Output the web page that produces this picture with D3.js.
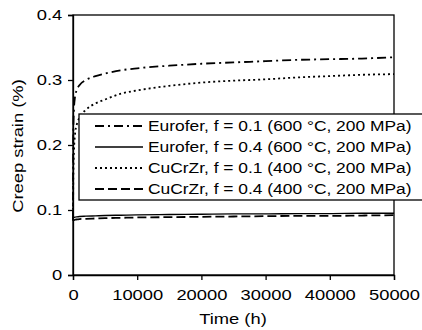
<!DOCTYPE html>
<html>
<head>
<meta charset="utf-8">
<script src="https://cdn.jsdelivr.net/npm/d3@7"></script>
<style>
  body { margin: 0; background: #fff; }
  text { font-family: "Liberation Sans", Arial, sans-serif; fill: #000; }
</style>
</head>
<body>
<script>
// time points (h)
const time = [0, 50, 150, 300, 600, 1000, 2000, 3500, 5000, 7500, 10000, 15000, 20000, 25000, 30000, 35000, 40000, 45000, 50000];

// creep strain (%) for each case
const eurofer01 = [0.085, 0.22, 0.255, 0.273, 0.285, 0.292, 0.3, 0.306, 0.31, 0.315, 0.318, 0.322, 0.325, 0.327, 0.329, 0.331, 0.332, 0.333, 0.335];
const eurofer04 = [0.087, 0.088, 0.0885, 0.089, 0.0895, 0.09, 0.0905, 0.091, 0.0915, 0.092, 0.0925, 0.093, 0.0935, 0.094, 0.094, 0.0945, 0.0945, 0.095, 0.095];
const cucrzr01 = [0.085, 0.15, 0.19, 0.215, 0.232, 0.242, 0.254, 0.264, 0.27, 0.279, 0.284, 0.291, 0.296, 0.299, 0.301, 0.304, 0.306, 0.308, 0.309];
const cucrzr04 = [0.083, 0.084, 0.0845, 0.085, 0.0855, 0.086, 0.0865, 0.087, 0.0875, 0.088, 0.0885, 0.089, 0.0895, 0.09, 0.0905, 0.091, 0.091, 0.0915, 0.092];

const labels = [
  "Eurofer, f = 0.1 (600 °C, 200 MPa)",
  "Eurofer, f = 0.4 (600 °C, 200 MPa)",
  "CuCrZr, f = 0.1 (400 °C, 200 MPa)",
  "CuCrZr, f = 0.4 (400 °C, 200 MPa)"
];
const xTicks = [0, 10000, 20000, 30000, 40000, 50000];
const yTicks = [0, 0.1, 0.2, 0.3, 0.4];

const series = [eurofer01, eurofer04, cucrzr01, cucrzr04];
const dashes = ["9,4,2,4", null, "2,3", "9,4"];

const width = 422, height = 330;
const plotL = 73, plotR = 394, plotT = 15, plotB = 275;
const stretch = "scale(1.2,1)";
const axisFont = 15.3, legendFont = 14.5;

const x = d3.scaleLinear().domain([0, 50000]).range([plotL, plotR]);
const y = d3.scaleLinear().domain([0, 0.4]).range([plotB, plotT]);

const svg = d3.select("body").append("svg")
  .attr("width", width)
  .attr("height", height);

// frame
svg.append("rect")
  .attr("x", plotL).attr("y", plotT)
  .attr("width", plotR - plotL).attr("height", plotB - plotT)
  .attr("fill", "none").attr("stroke", "#000").attr("stroke-width", 1.3);

// curves
const line = d3.line()
  .x((d, i) => x(time[i]))
  .y(d => y(d))
  .curve(d3.curveMonotoneX);

series.forEach((s, k) => {
  svg.append("path")
    .datum(s)
    .attr("fill", "none")
    .attr("stroke", "#000")
    .attr("stroke-width", k === 1 ? 1.4 : 1.8)
    .attr("stroke-dasharray", dashes[k])
    .attr("d", line);
});

// axes
const xAxis = svg.append("g")
  .attr("transform", `translate(0,${plotB})`)
  .call(d3.axisBottom(x).tickValues(xTicks).tickSize(5).tickPadding(9).tickFormat(d3.format("d")));

const yAxis = svg.append("g")
  .attr("transform", `translate(${plotL},0)`)
  .call(d3.axisLeft(y).tickValues(yTicks).tickSize(5).tickPadding(4).tickFormat(d => d === 0 ? "0" : d3.format(".1f")(d)));

[xAxis, yAxis].forEach(g => {
  g.attr("font-size", axisFont).attr("font-family", "Liberation Sans, Arial, sans-serif");
  g.select(".domain").attr("stroke-width", 1.3);
  g.selectAll(".tick line").attr("stroke-width", 1.3);
  g.selectAll(".tick text").attr("transform", stretch);
});

// axis titles
svg.append("text")
  .attr("transform", `translate(233,324) ${stretch}`)
  .attr("text-anchor", "middle")
  .attr("font-size", axisFont)
  .text("Time (h)");

svg.append("text")
  .attr("transform", `translate(23,146) rotate(-90) ${stretch}`)
  .attr("text-anchor", "middle")
  .attr("font-size", axisFont)
  .text("Creep strain (%)");

// legend
const legend = svg.append("g");
legend.append("rect")
  .attr("x", 79).attr("y", 114)
  .attr("width", 360).attr("height", 86)
  .attr("fill", "#fff").attr("stroke", "#000").attr("stroke-width", 1.3);

const rowY = [126, 147, 168, 189];
labels.forEach((lab, k) => {
  legend.append("line")
    .attr("x1", 95).attr("x2", 143)
    .attr("y1", rowY[k]).attr("y2", rowY[k])
    .attr("stroke", "#000")
    .attr("stroke-width", k === 1 ? 1.4 : 1.8)
    .attr("stroke-dasharray", dashes[k]);
  legend.append("text")
    .attr("transform", `translate(148,${rowY[k] + 5}) ${stretch}`)
    .attr("font-size", legendFont)
    .text(lab);
});
</script>
</body>
</html>
